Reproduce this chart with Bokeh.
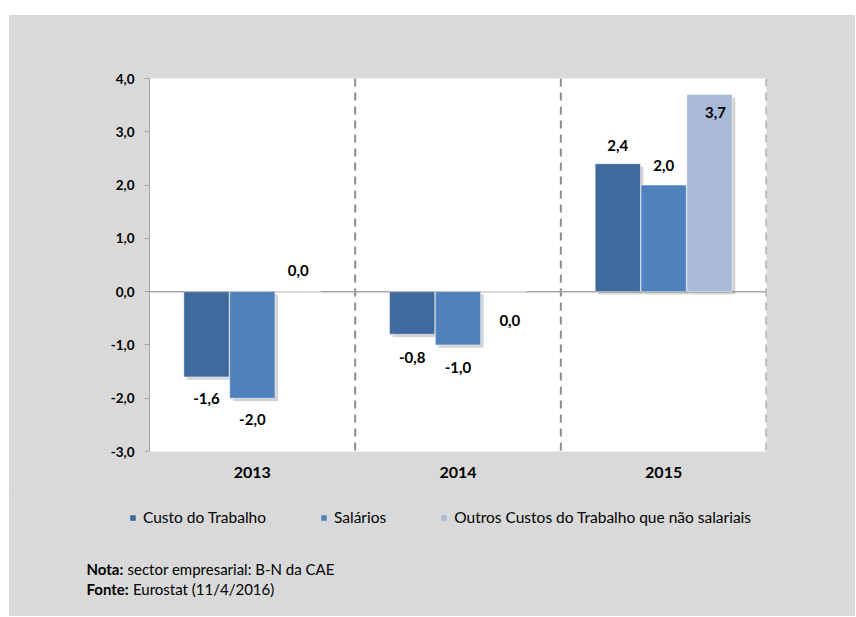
from bokeh.plotting import figure
from bokeh.models import (ColumnDataSource, Span, Legend, LegendItem,
                          CustomJSTickFormatter, FixedTicker, Range1d, Spacer)
from bokeh.transform import dodge
from bokeh.layouts import column, row
from bokeh.embed import file_html
from bokeh.resources import INLINE
from bokeh.core.properties import value

# ---------------- data ----------------
years = ["2013", "2014", "2015"]
custo_trabalho = [-1.6, -0.8, 2.4]
salarios = [-2.0, -1.0, 2.0]
outros_custos = [0.0, 0.0, 3.7]
series_names = ["Custo do Trabalho", "Salários",
                "Outros Custos do Trabalho que não salariais"]
y_ticks = [-3, -2, -1, 0, 1, 2, 3, 4]
note_bold = ["Nota:", "Fonte:"]
note_text = ["sector empresarial: B-N da CAE", "Eurostat (11/4/2016)"]

# ---------------- styles ----------------
colors = ["#3F6A9D", "#4F81BD", "#A9BAD8"]
offsets = [-0.223, 0.0, 0.223]
bar_w = 0.22
# label placement (px, screen: +down) per series per year
label_dy = [[22, 23, -18], [21, 23, -20], [-21, 29, 18]]
label_dx = [[0, 0, 0], [0, 0, 0], [0, 6, 6]]
FONT = "Lato"
GREY = "#D9D9D9"
W = 846
H1 = 480
H2 = 121


def fmt(v):
    return f"{v:.1f}".replace(".", ",")


series = [custo_trabalho, salarios, outros_custos]
data = dict(year=years)
for i, vals in enumerate(series):
    data[f"v{i}"] = vals
    data[f"lbl{i}"] = [fmt(v) for v in vals]
    data[f"dy{i}"] = label_dy[i]
    data[f"dx{i}"] = label_dx[i]
source = ColumnDataSource(data)

p = figure(x_range=years, y_range=Range1d(-3, 4), width=W, height=H1,
           output_backend="svg", toolbar_location=None,
           min_border_left=140, min_border_right=89,
           min_border_top=63, min_border_bottom=44)
p.frame_align = False
p.border_fill_color = GREY
p.background_fill_color = "white"
p.outline_line_color = None
p.grid.visible = False

# separators and zero line
for loc in [1, 2, 3]:
    p.add_layout(Span(location=loc, dimension="height", line_color="#8C8C8C",
                      line_dash="8 6", line_width=2, level="underlay"))
p.add_layout(Span(location=0, dimension="width", line_color="#A6A6A6",
                  line_width=1.5, level="underlay"))

for i in range(3):
    # soft shadow
    p.vbar(x=dodge("year", offsets[i] + 0.015, range=p.x_range),
           top=dodge(f"v{i}", -0.055), bottom=-0.055, width=bar_w,
           source=source, fill_color="#000000", fill_alpha=0.17,
           line_color=None)
for i in range(3):
    p.vbar(x=dodge("year", offsets[i], range=p.x_range), top=f"v{i}",
           bottom=0, width=bar_w, source=source, fill_color=colors[i],
           line_color="#FFFFFF", line_alpha=0.45, line_width=1)
    p.text(x=dodge("year", offsets[i], range=p.x_range), y=f"v{i}",
           text=f"lbl{i}", x_offset=f"dx{i}", y_offset=f"dy{i}", source=source,
           text_align="center", text_baseline="middle",
           text_font=value(FONT), text_font_style="bold",
           text_font_size="15px", text_color="black")

# axes
p.yaxis.ticker = FixedTicker(ticks=y_ticks)
p.yaxis.formatter = CustomJSTickFormatter(
    code="return tick.toFixed(1).replace('.', ',');")
p.yaxis.axis_line_color = "#A6A6A6"
p.yaxis.major_tick_line_color = "#A6A6A6"
p.yaxis.major_tick_out = 5
p.yaxis.major_tick_in = 0
p.yaxis.minor_tick_line_color = None
p.yaxis.major_label_standoff = 10
p.yaxis.major_label_text_font = FONT
p.yaxis.major_label_text_font_style = "bold"
p.yaxis.major_label_text_font_size = "13.5px"
p.yaxis.major_label_text_color = "black"

p.xaxis.axis_line_color = None
p.xaxis.major_tick_line_color = None
p.xaxis.minor_tick_line_color = None
p.xaxis.major_tick_out = 0
p.xaxis.major_label_standoff = 15
p.xaxis.major_label_text_font = FONT
p.xaxis.major_label_text_font_style = "bold"
p.xaxis.major_label_text_font_size = "16px"
p.xaxis.major_label_text_color = "black"

# ---------------- lower panel: legend + notes ----------------
p2 = figure(width=W, height=H2, x_range=Range1d(0, W), y_range=Range1d(H2, 0),
            output_backend="svg", toolbar_location=None,
            x_axis_type=None, y_axis_type=None, min_border=0)
p2.frame_align = False
p2.border_fill_color = GREY
p2.background_fill_color = GREY
p2.outline_line_color = None
p2.grid.visible = False

# legend-only renderers (their single point lies outside the visible range)
legend_renderers = [p2.vbar(x=[-500], top=[-500], bottom=[-501], width=1,
                            fill_color=c, line_color=None) for c in colors]
legend = Legend(
    items=[LegendItem(label=series_names[i], renderers=[legend_renderers[i]])
           for i in range(3)],
    orientation="horizontal", location=(120, 89), spacing=54,
    glyph_width=7, glyph_height=7, label_standoff=7, padding=0, margin=0,
    label_height=20, border_line_color=None, background_fill_alpha=0,
    label_text_font=FONT, label_text_font_size="15.5px",
    label_text_color="black", label_text_baseline="middle")
p2.add_layout(legend, "center")

notes = ColumnDataSource(dict(bx=[77, 77], tx=[118, 123.5], y=[73, 93],
                              bold=note_bold, txt=note_text))
p2.text(x="bx", y="y", text="bold", source=notes, text_baseline="middle",
        text_font=value(FONT), text_font_style="bold", text_font_size="15px",
        text_color="black")
p2.text(x="tx", y="y", text="txt", source=notes, text_baseline="middle",
        text_font=value(FONT), text_font_size="15px", text_color="black")

panel = column(p, p2, spacing=0, styles={"background-color": GREY})
layout = column(Spacer(height=15), row(Spacer(width=9), panel, spacing=0),
                spacing=0)
open("out.html", "w").write(file_html(layout, INLINE))
